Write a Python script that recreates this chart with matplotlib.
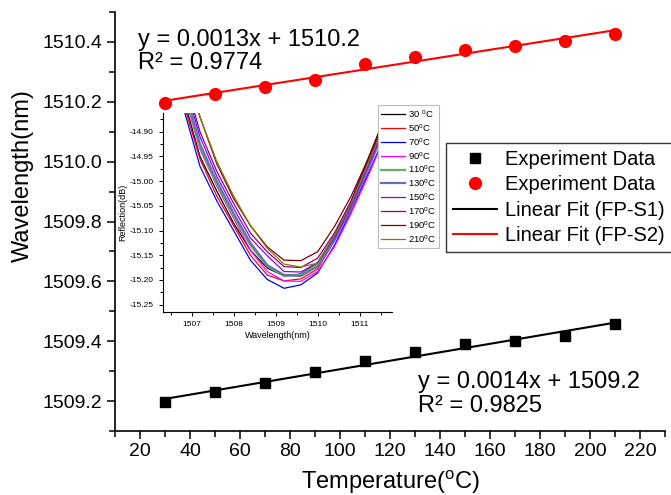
import numpy as np
import matplotlib
matplotlib.use('Agg')
from matplotlib import pyplot as plt
from matplotlib.ticker import MultipleLocator

plt.rcParams['font.family'] = ['Liberation Sans', 'DejaVu Sans']
plt.rcParams['mathtext.fontset'] = 'custom'
plt.rcParams['mathtext.rm'] = 'Liberation Sans'
plt.rcParams['mathtext.it'] = 'Liberation Sans'

# main data: peak wavelength vs temperature
temperature = [30, 50, 70, 90, 110, 130, 150, 170, 190, 210]
wl_s1 = [1509.198, 1509.229, 1509.260, 1509.296, 1509.334,
         1509.364, 1509.390, 1509.401, 1509.418, 1509.457]
wl_s2 = [1510.197, 1510.227, 1510.249, 1510.272, 1510.327,
         1510.351, 1510.374, 1510.388, 1510.402, 1510.427]

# inset: reflection spectra near the dip
spec_wl = [1506.8, 1507.2, 1507.6, 1508.0, 1508.4, 1508.8, 1509.2,
           1509.6, 1510.0, 1510.4, 1510.8, 1511.2, 1511.6]
spec_labels = ['30 °C', '50°C', '70°C', '90°C', '110°C',
               '130°C', '150°C', '170°C', '190°C', '210°C']
spec_colors = ['#000000', '#ff0000', '#0000ff', '#ff00ff', '#5fb55f',
               '#6670b0', '#8f00ff', '#8b008b', '#800000', '#808000']
spec_30 = [-14.83, -14.95, -15.02, -15.085, -15.14, -15.176, -15.192, -15.188, -15.165, -15.11, -15.04, -14.955, -14.87]
spec_50 = [-14.84, -14.955, -15.03, -15.09, -15.15, -15.19, -15.202, -15.198, -15.178, -15.12, -15.05, -14.97, -14.89]
spec_70 = [-14.85, -14.97, -15.04, -15.10, -15.16, -15.199, -15.217, -15.210, -15.186, -15.13, -15.06, -14.985, -14.91]
spec_90 = [-14.82, -14.935, -15.01, -15.075, -15.14, -15.183, -15.202, -15.203, -15.183, -15.133, -15.065, -14.99, -14.91]
spec_110 = [-14.81, -14.93, -15.005, -15.07, -15.13, -15.172, -15.192, -15.19, -15.168, -15.115, -15.05, -14.97, -14.89]
spec_130 = [-14.80, -14.925, -15.0, -15.065, -15.125, -15.17, -15.19, -15.192, -15.173, -15.12, -15.055, -14.975, -14.895]
spec_150 = [-14.79, -14.91, -14.99, -15.055, -15.115, -15.151, -15.183, -15.184, -15.165, -15.115, -15.05, -14.97, -14.89]
spec_170 = [-14.78, -14.90, -14.98, -15.045, -15.105, -15.143, -15.173, -15.175, -15.156, -15.105, -15.04, -14.96, -14.88]
spec_190 = [-14.76, -14.87, -14.965, -15.035, -15.09, -15.133, -15.160, -15.161, -15.143, -15.092, -15.03, -14.955, -14.875]
spec_210 = [-14.76, -14.87, -14.96, -15.03, -15.09, -15.136, -15.168, -15.174, -15.166, -15.11, -15.045, -14.965, -14.885]
spectra = [spec_30, spec_50, spec_70, spec_90, spec_110,
           spec_130, spec_150, spec_170, spec_190, spec_210]

W, H = 671, 495
fig = plt.figure(figsize=(W / 100, H / 100), dpi=100)


def px_axes(left, top, right, bottom):
    return fig.add_axes([left / W, 1 - bottom / H, (right - left) / W, (bottom - top) / H])


ax = px_axes(115, 12, 665, 431)

t = np.array(temperature)
fit1 = np.polyfit(t, wl_s1, 1)
fit2 = np.polyfit(t, wl_s2, 1)

ax.plot(t, wl_s1, 's', color='black', markersize=6.5, label='Experiment Data')
ax.plot(t, wl_s2, 'o', color='red', markersize=8.5, label='Experiment Data')
ax.plot(t, np.polyval(fit1, t), '-', color='black', lw=1.5, label='Linear Fit (FP-S1)')
ax.plot(t, np.polyval(fit2, t), '-', color='red', lw=1.5, label='Linear Fit (FP-S2)')

ax.set_xlim(10, 230)
ax.set_ylim(1509.1, 1510.5)
ax.xaxis.set_major_locator(MultipleLocator(20))
ax.xaxis.set_minor_locator(MultipleLocator(10))
ax.yaxis.set_major_locator(MultipleLocator(0.2))
ax.yaxis.set_minor_locator(MultipleLocator(0.1))
ax.set_xticks(np.arange(20, 221, 20))
ax.yaxis.set_major_formatter(matplotlib.ticker.FormatStrFormatter('%.1f'))
for s in ['top', 'right']:
    ax.spines[s].set_visible(False)
for s in ['left', 'bottom']:
    ax.spines[s].set_linewidth(1.2)
ax.tick_params(which='both', direction='out', width=1.1, labelsize=14)
ax.tick_params(which='major', length=5.5)
ax.tick_params(which='minor', length=4.5)
ax.set_xlabel('Temperature($\\mathregular{^o}$C)', fontsize=17, labelpad=6)
ax.set_ylabel('Wavelength(nm)', fontsize=17)
ax.yaxis.set_label_coords(-0.147, 0.61)

leg = ax.legend(loc='upper left', bbox_to_anchor=(446 / W, 1 - 143 / H),
                bbox_transform=fig.transFigure, fontsize=14.5, frameon=True,
                fancybox=False, edgecolor='black', handlelength=2.2,
                borderpad=0.35, labelspacing=0.32, handletextpad=0.4, borderaxespad=0)
leg.get_frame().set_linewidth(1.0)

fig.text(138 / W, 1 - 40 / H, 'y = 0.0013x + 1510.2', fontsize=17, va='center')
fig.text(138 / W, 1 - 63 / H, 'R² = 0.9774', fontsize=17, va='center')
fig.text(418 / W, 1 - 382 / H, 'y = 0.0014x + 1509.2', fontsize=17, va='center')
fig.text(418 / W, 1 - 406 / H, 'R² = 0.9825', fontsize=17, va='center')

# inset
ins = px_axes(163, 113, 392, 312)
for spec, col, lab in zip(spectra, spec_colors, spec_labels):
    lw = 1.6 if lab in ('110°C', '130°C') else 0.9
    ins.plot(spec_wl, spec, color=col, lw=lw, label=lab.replace('°', '$\\mathregular{^o}$'))
ins.set_xlim(1506.32, 1511.77)
ins.set_ylim(-15.265, -14.862)
ins.xaxis.set_major_locator(MultipleLocator(1))
ins.xaxis.set_minor_locator(MultipleLocator(0.5))
ins.yaxis.set_major_locator(MultipleLocator(0.05))
ins.yaxis.set_minor_locator(MultipleLocator(0.025))
ins.yaxis.set_major_formatter(matplotlib.ticker.FormatStrFormatter('%.2f'))
for s in ['top', 'right']:
    ins.spines[s].set_visible(False)
ins.patch.set_alpha(0)
ins.tick_params(which='both', direction='out', width=0.7, labelsize=6)
ins.tick_params(which='major', length=3)
ins.tick_params(which='minor', length=2)
ins.set_xlabel('Wavelength(nm)', fontsize=6.5, labelpad=2)
ins.set_ylabel('Reflection(dB)', fontsize=6.5, labelpad=2)

ileg = ins.legend(loc='upper left', bbox_to_anchor=(378 / W, 1 - 105 / H),
                  bbox_transform=fig.transFigure, fontsize=6.8, frameon=True,
                  fancybox=False, edgecolor='#bbbbbb', handlelength=2.6,
                  borderpad=0.3, labelspacing=0.2, handletextpad=0.3, borderaxespad=0)
ileg.get_frame().set_linewidth(0.8)
ileg.get_frame().set_alpha(1)

fig.savefig('out.png', dpi=100)
